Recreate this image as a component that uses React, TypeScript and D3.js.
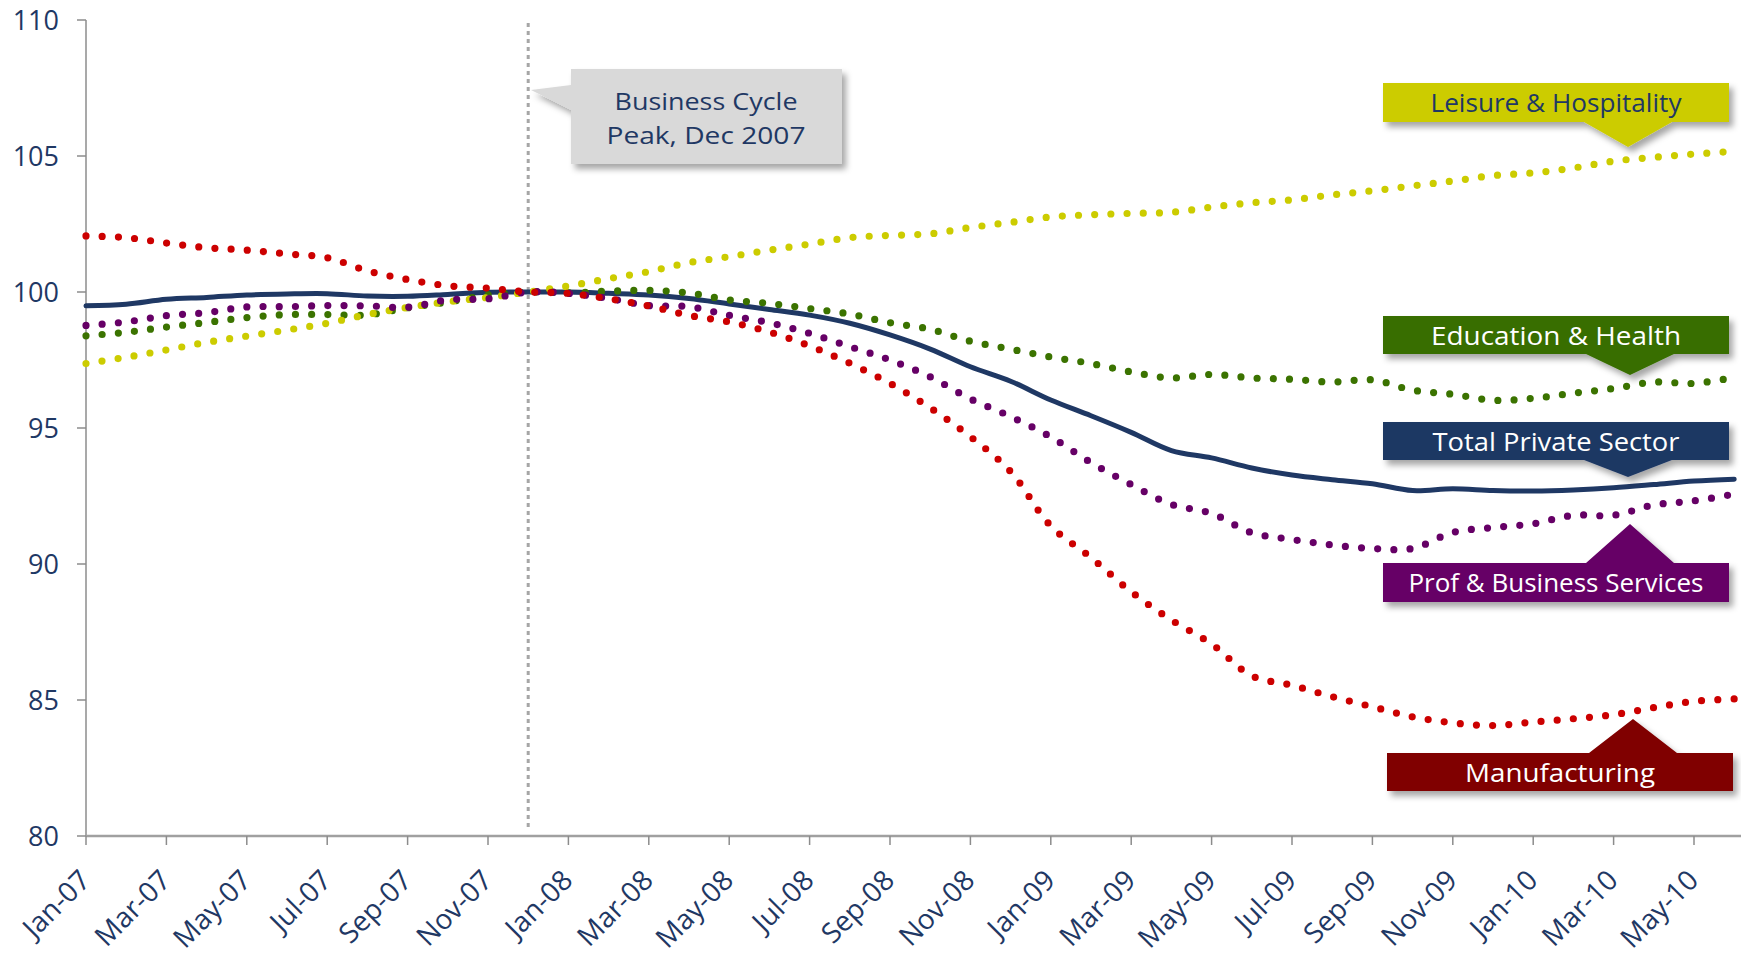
import React from "react";
import * as d3 from "d3";

// Employment indexed to the business cycle peak (Dec 2007 = 100), Jan-07 .. Jun-10
const tickLabels = [
  "Jan-07", "Mar-07", "May-07", "Jul-07", "Sep-07", "Nov-07",
  "Jan-08", "Mar-08", "May-08", "Jul-08", "Sep-08", "Nov-08",
  "Jan-09", "Mar-09", "May-09", "Jul-09", "Sep-09", "Nov-09",
  "Jan-10", "Mar-10", "May-10",
];
const yTicks = [80, 85, 90, 95, 100, 105, 110];

const totalPrivate = [
  99.49, 99.55, 99.73, 99.8, 99.89, 99.93, 99.94, 99.85, 99.84, 99.91, 99.99, 100.0,
  100.0, 99.95, 99.89, 99.76, 99.56, 99.36, 99.15, 98.85, 98.42, 97.9, 97.25, 96.72,
  96.03, 95.45, 94.84, 94.17, 93.9, 93.53, 93.27, 93.1, 92.95, 92.7, 92.77, 92.7,
  92.68, 92.72, 92.8, 92.92, 93.05, 93.12,
];
const manufacturing = [
  102.06, 102.0, 101.8, 101.63, 101.54, 101.4, 101.26, 100.78, 100.46, 100.23, 100.14, 100.0,
  99.95, 99.75, 99.49, 99.14, 98.9, 98.53, 98.02, 97.38, 96.64, 95.74, 94.68, 93.4,
  91.4, 90.24, 88.98, 87.94, 87.06, 85.89, 85.54, 85.12, 84.75, 84.38, 84.16, 84.06,
  84.19, 84.31, 84.46, 84.72, 84.95, 85.04,
];
const profBusiness = [
  98.77, 98.9, 99.13, 99.24, 99.45, 99.46, 99.5, 99.49, 99.44, 99.71, 99.75, 100.0,
  99.95, 99.76, 99.5, 99.46, 99.14, 98.87, 98.48, 97.99, 97.5, 96.88, 96.07, 95.42,
  94.67, 93.73, 92.92, 92.19, 91.86, 91.15, 90.9, 90.7, 90.57, 90.57, 91.16, 91.34,
  91.48, 91.79, 91.79, 92.17, 92.32, 92.57,
];
const eduHealth = [
  98.39, 98.52, 98.71, 98.88, 99.06, 99.17, 99.17, 99.16, 99.42, 99.63, 99.89, 100.0,
  99.97, 100.03, 100.06, 99.96, 99.71, 99.58, 99.39, 99.19, 98.87, 98.63, 98.19, 97.9,
  97.61, 97.37, 97.06, 96.84, 96.97, 96.84, 96.79, 96.69, 96.77, 96.39, 96.24, 96.02,
  96.09, 96.28, 96.45, 96.69, 96.64, 96.86,
];
const leisure = [
  97.37, 97.6, 97.87, 98.15, 98.38, 98.6, 98.85, 99.17, 99.43, 99.64, 99.8, 100.0,
  100.22, 100.49, 100.75, 101.08, 101.3, 101.54, 101.76, 102.0, 102.08, 102.14, 102.37, 102.56,
  102.76, 102.84, 102.89, 102.93, 103.12, 103.28, 103.39, 103.57, 103.72, 103.9, 104.08, 104.28,
  104.38, 104.56, 104.81, 104.95, 105.07, 105.17,
];

const NAVY = "#1f3864";
const FONT = "'Open Sans', 'DejaVu Sans', sans-serif";

type Series = { name: string; values: number[]; color: string; dotted: boolean };

// drawing order: bottom to top
const series: Series[] = [
  { name: "Total Private Sector", values: totalPrivate, color: NAVY, dotted: false },
  { name: "Education & Health", values: eduHealth, color: "#3b7300", dotted: true },
  { name: "Leisure & Hospitality", values: leisure, color: "#cccc00", dotted: true },
  { name: "Prof & Business Services", values: profBusiness, color: "#660066", dotted: true },
  { name: "Manufacturing", values: manufacturing, color: "#cc0000", dotted: true },
];

type Tag = {
  text: string;
  fill: string;
  ink: string;
  x0: number; x1: number; y0: number; y1: number;
  tipX: number; tipY: number; halfBase: number;
  textWidth: number;
};

const tags: Tag[] = [
  { text: "Leisure & Hospitality", fill: "#cccc00", ink: NAVY, x0: 1383, x1: 1729, y0: 83, y1: 122, tipX: 1628, tipY: 147, halfBase: 44, textWidth: 251 },
  { text: "Education & Health", fill: "#386e00", ink: "#ffffff", x0: 1383, x1: 1729, y0: 316, y1: 354, tipX: 1630, tipY: 375, halfBase: 44, textWidth: 250 },
  { text: "Total Private Sector", fill: NAVY, ink: "#ffffff", x0: 1383, x1: 1729, y0: 422, y1: 460, tipX: 1628, tipY: 477, halfBase: 44, textWidth: 247 },
  { text: "Prof & Business Services", fill: "#660066", ink: "#ffffff", x0: 1383, x1: 1729, y0: 563, y1: 602, tipX: 1630, tipY: 524, halfBase: 44, textWidth: 295 },
  { text: "Manufacturing", fill: "#800000", ink: "#ffffff", x0: 1387, x1: 1733, y0: 753, y1: 791, tipX: 1633, tipY: 719, halfBase: 44, textWidth: 190 },
];

function tagPath(t: Tag): string {
  const p = d3.path();
  const down = t.tipY > t.y1;
  p.moveTo(t.x0, t.y0);
  if (!down) {
    p.lineTo(t.tipX - t.halfBase, t.y0);
    p.lineTo(t.tipX, t.tipY);
    p.lineTo(t.tipX + t.halfBase, t.y0);
  }
  p.lineTo(t.x1, t.y0);
  p.lineTo(t.x1, t.y1);
  if (down) {
    p.lineTo(t.tipX + t.halfBase, t.y1);
    p.lineTo(t.tipX, t.tipY);
    p.lineTo(t.tipX - t.halfBase, t.y1);
  }
  p.lineTo(t.x0, t.y1);
  p.closePath();
  return p.toString();
}

export default function App() {
  const width = 1741;
  const height = 961;
  const left = 86;
  const top = 20;
  const bottom = 836;
  const monthStep = 40.2;
  const n = totalPrivate.length;

  const x = d3.scaleLinear().domain([0, n - 1]).range([left, left + monthStep * (n - 1)]);
  const y = d3.scaleLinear().domain([80, 110]).range([bottom, top]);

  const line = d3
    .line<number>()
    .x((_, i) => x(i))
    .y((v) => y(v))
    .curve(d3.curveCatmullRom.alpha(0.5));

  const peakIndex = 11; // Dec-07

  const callout = { x0: 571, x1: 842, y0: 69, y1: 164, tipX: 531, tipY: 90, b0: 85, b1: 110 };
  const calloutPath = (() => {
    const p = d3.path();
    p.moveTo(callout.x0, callout.y0);
    p.lineTo(callout.x1, callout.y0);
    p.lineTo(callout.x1, callout.y1);
    p.lineTo(callout.x0, callout.y1);
    p.lineTo(callout.x0, callout.b1);
    p.lineTo(callout.tipX, callout.tipY);
    p.lineTo(callout.x0, callout.b0);
    p.closePath();
    return p.toString();
  })();

  return (
    <svg
      width={width}
      height={height}
      style={{ position: "absolute", left: 0, top: 0, background: "#ffffff" }}
      fontFamily={FONT}
    >
      <defs>
        <filter id="tagShadow" x="-10%" y="-30%" width="130%" height="180%">
          <feDropShadow dx="4" dy="5" stdDeviation="3" floodColor="#000000" floodOpacity="0.35" />
        </filter>
      </defs>
      <rect x={0} y={0} width={width} height={height} fill="#ffffff" />

      {/* y axis */}
      <line x1={left} x2={left} y1={top} y2={bottom} stroke="#8c8c8c" strokeWidth={1.5} />
      {yTicks.map((t) => (
        <g key={t}>
          <line x1={left - 9} x2={left} y1={y(t)} y2={y(t)} stroke="#8c8c8c" strokeWidth={1.5} />
          <text
            x={59}
            y={y(t)}
            dy="0.36em"
            textAnchor="end"
            fontSize={27}
            fill={NAVY}
          >
            {t}
          </text>
        </g>
      ))}

      {/* x axis */}
      <line x1={left} x2={width} y1={bottom} y2={bottom} stroke="#a0a0a0" strokeWidth={2.5} />
      {tickLabels.map((lab, k) => {
        const xi = x(k * 2);
        return (
          <g key={lab}>
            <line x1={xi} x2={xi} y1={bottom} y2={bottom + 9} stroke="#8c8c8c" strokeWidth={1.5} />
            <text
              transform={`translate(${xi + 6},${bottom + 46}) rotate(-45)`}
              textAnchor="end"
              fontSize={28}
              fill={NAVY}
            >
              {lab}
            </text>
          </g>
        );
      })}

      {/* business cycle peak marker */}
      <line
        x1={x(peakIndex)}
        x2={x(peakIndex)}
        y1={23}
        y2={828}
        stroke="#a6a6a6"
        strokeWidth={3}
        strokeDasharray="4 4"
      />

      {/* series */}
      {series.map((s) => (
        <path
          key={s.name}
          d={line(s.values) || ""}
          fill="none"
          stroke={s.color}
          strokeWidth={s.dotted ? 7.2 : 5}
          strokeLinecap="round"
          strokeLinejoin="round"
          strokeDasharray={s.dotted ? "0 16.2" : undefined}
        />
      ))}

      {/* callout */}
      <g filter="url(#tagShadow)">
        <path d={calloutPath} fill="#d9d9d9" />
      </g>
      <text x={706} y={110} textAnchor="middle" fontSize={24} fill={NAVY} textLength={183} lengthAdjust="spacingAndGlyphs">
        Business Cycle
      </text>
      <text x={706} y={144} textAnchor="middle" fontSize={24} fill={NAVY} textLength={199} lengthAdjust="spacingAndGlyphs">
        Peak, Dec 2007
      </text>

      {/* series labels */}
      {tags.map((t) => (
        <g key={t.text}>
          <g filter="url(#tagShadow)">
            <path d={tagPath(t)} fill={t.fill} />
          </g>
          <text
            x={(t.x0 + t.x1) / 2}
            y={(t.y0 + t.y1) / 2 + 9.5}
            textAnchor="middle"
            fontSize={26}
            fill={t.ink}
            textLength={t.textWidth}
            lengthAdjust="spacingAndGlyphs"
          >
            {t.text}
          </text>
        </g>
      ))}
    </svg>
  );
}
